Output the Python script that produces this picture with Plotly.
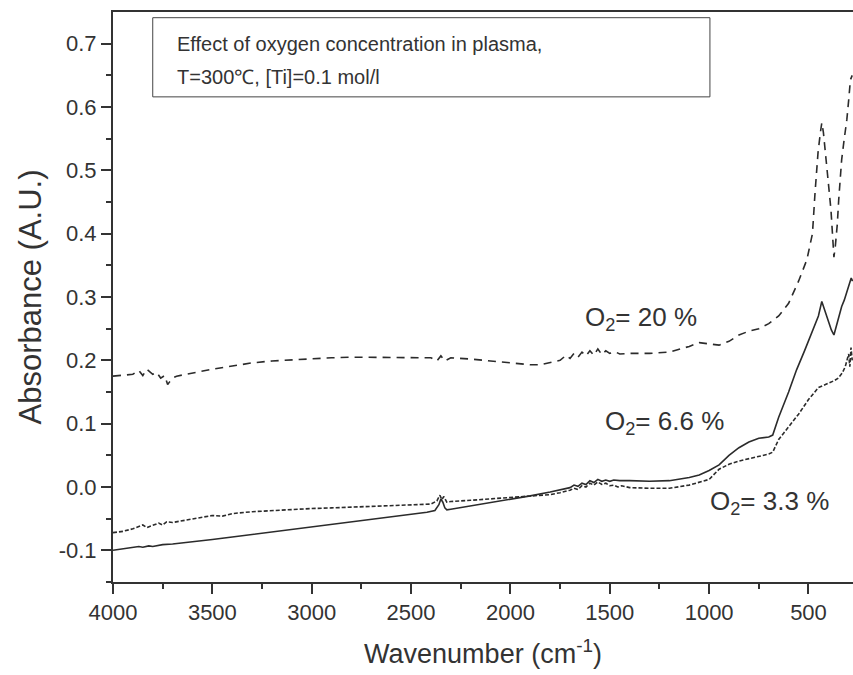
import plotly.graph_objects as go

# ---- data ----
x_20 = [4000, 3950, 3900, 3870, 3850, 3830, 3800, 3780, 3760, 3740, 3725, 3715, 3700, 3680, 3650,
        3600, 3500, 3400, 3300, 3200, 3100, 3000, 2900, 2800, 2700, 2600, 2500, 2400, 2370, 2350,
        2330, 2300, 2200, 2100, 2000, 1900, 1850, 1800, 1750, 1720, 1700, 1680, 1660, 1640, 1620,
        1600, 1580, 1560, 1540, 1520, 1500, 1470, 1450, 1400, 1300, 1200, 1100, 1050, 1000, 950,
        900, 850, 800, 750, 700, 650, 600, 578, 550, 508, 480, 467, 452, 440, 433, 425, 413, 400,
        387, 378, 372, 365, 355, 348, 340, 333, 320, 307, 298, 289, 280]
y_20 = [0.175, 0.176, 0.178, 0.184, 0.176, 0.186, 0.178, 0.181, 0.172, 0.176, 0.162, 0.166, 0.172, 0.175, 0.177,
        0.180, 0.186, 0.191, 0.196, 0.199, 0.201, 0.202, 0.204, 0.205, 0.205, 0.205, 0.204, 0.204, 0.199, 0.207,
        0.199, 0.204, 0.202, 0.199, 0.195, 0.193, 0.193, 0.196, 0.200, 0.208, 0.203, 0.211, 0.205, 0.213, 0.207,
        0.215, 0.208, 0.218, 0.209, 0.215, 0.211, 0.213, 0.210, 0.211, 0.211, 0.213, 0.222, 0.228, 0.226, 0.224,
        0.230, 0.240, 0.246, 0.250, 0.258, 0.270, 0.290, 0.306, 0.325, 0.359, 0.400, 0.465, 0.528, 0.560, 0.575, 0.560, 0.517, 0.480,
        0.438, 0.400, 0.363, 0.380, 0.415, 0.453, 0.490, 0.517, 0.550, 0.580, 0.610, 0.643, 0.650]

x_66 = [4000, 3950, 3900, 3870, 3850, 3820, 3800, 3750, 3700, 3600, 3500, 3400, 3300, 3200, 3100,
        3000, 2900, 2800, 2700, 2600, 2500, 2420, 2380, 2360, 2350, 2340, 2330, 2320, 2300, 2200,
        2100, 2000, 1900, 1800, 1750, 1700, 1680, 1660, 1640, 1620, 1600, 1580, 1560, 1540, 1520,
        1500, 1480, 1450, 1400, 1300, 1200, 1100, 1050, 1000, 950, 900, 850, 800, 750, 700,
        680, 650, 600, 560, 520, 480, 450, 433, 420, 400, 385, 372, 360, 345, 333,
        320, 305, 295, 285, 278]
y_66 = [-0.100, -0.098, -0.096, -0.094, -0.095, -0.093, -0.094, -0.091, -0.090, -0.087, -0.083, -0.079, -0.075, -0.071, -0.067,
        -0.063, -0.059, -0.055, -0.051, -0.047, -0.043, -0.040, -0.037, -0.028, -0.019, -0.024, -0.033, -0.036, -0.035, -0.030,
        -0.025, -0.019, -0.014, -0.008, -0.005, -0.001, 0.003, 0.001, 0.006, 0.004, 0.010, 0.007, 0.012, 0.009, 0.011,
        0.009, 0.011, 0.010, 0.010, 0.009, 0.010, 0.015, 0.019, 0.026, 0.035, 0.050, 0.062, 0.071, 0.077, 0.079,
        0.082, 0.110, 0.150, 0.185, 0.215, 0.245, 0.270, 0.293, 0.280, 0.262, 0.248, 0.240, 0.255, 0.272, 0.285,
        0.295, 0.310, 0.320, 0.330, 0.325]

x_33 = [4000, 3950, 3900, 3870, 3850, 3830, 3800, 3770, 3750, 3730, 3700, 3650, 3600, 3550, 3500,
        3450, 3400, 3300, 3200, 3100, 3000, 2900, 2800, 2700, 2600, 2500, 2400, 2370, 2355, 2345,
        2335, 2320, 2300, 2200, 2100, 2000, 1900, 1800, 1750, 1700, 1680, 1660, 1640, 1620, 1600,
        1580, 1560, 1540, 1520, 1500, 1480, 1460, 1440, 1400, 1300, 1200, 1100, 1050, 1000, 950,
        900, 850, 800, 750, 700, 680, 650, 600, 550, 500, 450, 420, 390, 370, 350,
        330, 315, 305, 298, 292, 286, 280]
y_33 = [-0.072, -0.070, -0.066, -0.063, -0.060, -0.064, -0.060, -0.057, -0.060, -0.055, -0.056, -0.053, -0.050, -0.048, -0.045,
        -0.046, -0.042, -0.039, -0.037, -0.035, -0.034, -0.033, -0.032, -0.031, -0.030, -0.029, -0.027, -0.022, -0.013, -0.020,
        -0.015, -0.024, -0.023, -0.021, -0.019, -0.017, -0.015, -0.012, -0.009, -0.005, -0.002, -0.004, 0.002, 0.000, 0.006,
        0.003, 0.008, 0.004, 0.006, 0.002, 0.003, 0.000, 0.002, -0.001, -0.002, -0.002, 0.003, 0.008, 0.012, 0.028,
        0.036, 0.041, 0.045, 0.049, 0.052, 0.055, 0.075, 0.095, 0.115, 0.138, 0.157, 0.161, 0.165, 0.168, 0.172,
        0.180, 0.190, 0.200, 0.210, 0.190, 0.220, 0.200]

y_tickvals = [-0.1, 0.0, 0.1, 0.2, 0.3, 0.4, 0.5, 0.6, 0.7]
y_ticktext = ["-0.1", "0.0", "0.1", "0.2", "0.3", "0.4", "0.5", "0.6", "0.7"]
x_tickvals = [4000, 3500, 3000, 2500, 2000, 1500, 1000, 500]
x_ticktext = ["4000", "3500", "3000", "2500", "2000", "1500", "1000", "500"]

ink = "#2b2b2b"
font = "Liberation Sans, Arial, Helvetica, sans-serif"

fig = go.Figure()
fig.add_trace(go.Scatter(x=x_20, y=y_20, mode="lines", name="O2 = 20 %",
                         line=dict(color=ink, width=1.6, dash="8px,6px")))
fig.add_trace(go.Scatter(x=x_66, y=y_66, mode="lines", name="O2 = 6.6 %",
                         line=dict(color=ink, width=1.6)))
fig.add_trace(go.Scatter(x=x_33, y=y_33, mode="lines", name="O2 = 3.3 %",
                         line=dict(color=ink, width=1.6, dash="4px,2px")))

fig.update_layout(
    width=853, height=675,
    margin=dict(l=113, r=0, t=12, b=93),
    paper_bgcolor="white", plot_bgcolor="white",
    showlegend=False,
    font=dict(family=font, color="#333333"),
)

fig.update_xaxes(
    range=[4000, 276], showgrid=False, zeroline=False,
    showline=True, linecolor="#333333", linewidth=2, mirror=True,
    ticks="outside", ticklen=10, tickwidth=2, tickcolor="#333333",
    tickvals=x_tickvals, ticktext=x_ticktext,
    tickfont=dict(size=22, family=font, color="#333333"),
    minor=dict(tickvals=[3750, 3250, 2750, 2250, 1750, 1250, 750], ticks="outside",
               ticklen=5, tickwidth=2, tickcolor="#333333"),
    title=dict(text="Wavenumber (cm<sup>-1</sup>)", font=dict(size=27, family=font, color="#333333"),
               standoff=20),
)
fig.update_yaxes(
    range=[-0.15, 0.75], showgrid=False, zeroline=False,
    showline=True, linecolor="#333333", linewidth=2,
    ticks="outside", ticklen=10, tickwidth=2, tickcolor="#333333",
    tickvals=y_tickvals, ticktext=y_ticktext,
    tickfont=dict(size=22, family=font, color="#333333"),
    minor=dict(tickvals=[-0.15, -0.05, 0.05, 0.15, 0.25, 0.35, 0.45, 0.55, 0.65], ticks="outside",
               ticklen=5, tickwidth=2, tickcolor="#333333"),
    title=dict(text="Absorbance (A.U.)", font=dict(size=31, family=font, color="#333333"),
               standoff=8),
)

# info box
fig.add_shape(type="rect", xref="x", yref="y", x0=3800, x1=996, y0=0.616, y1=0.741,
              line=dict(color="#444444", width=1), fillcolor="rgba(0,0,0,0)")
fig.add_annotation(x=3690, y=0.700, xref="x", yref="y", xanchor="left", yanchor="middle",
                   text="Effect of oxygen concentration in plasma,", showarrow=False,
                   font=dict(size=20, family=font, color="#333333"))
fig.add_annotation(x=3690, y=0.648, xref="x", yref="y", xanchor="left", yanchor="middle",
                   text="T=300℃, [Ti]=0.1 mol/l", showarrow=False,
                   font=dict(size=20, family=font, color="#333333"))

# series labels
lab_font = dict(size=26, family=font, color="#333333")
fig.add_annotation(x=1635, y=0.266, xref="x", yref="y", xanchor="left", yanchor="middle",
                   text="O<sub>2</sub>= 20 %", showarrow=False, font=lab_font)
fig.add_annotation(x=1535, y=0.102, xref="x", yref="y", xanchor="left", yanchor="middle",
                   text="O<sub>2</sub>= 6.6 %", showarrow=False, font=lab_font)
fig.add_annotation(x=1006, y=-0.024, xref="x", yref="y", xanchor="left", yanchor="middle",
                   text="O<sub>2</sub>= 3.3 %", showarrow=False, font=lab_font)

fig.write_html("out.html", config={"displayModeBar": False},
               post_script="document.body.style.margin='0';document.body.style.overflow='hidden';")
